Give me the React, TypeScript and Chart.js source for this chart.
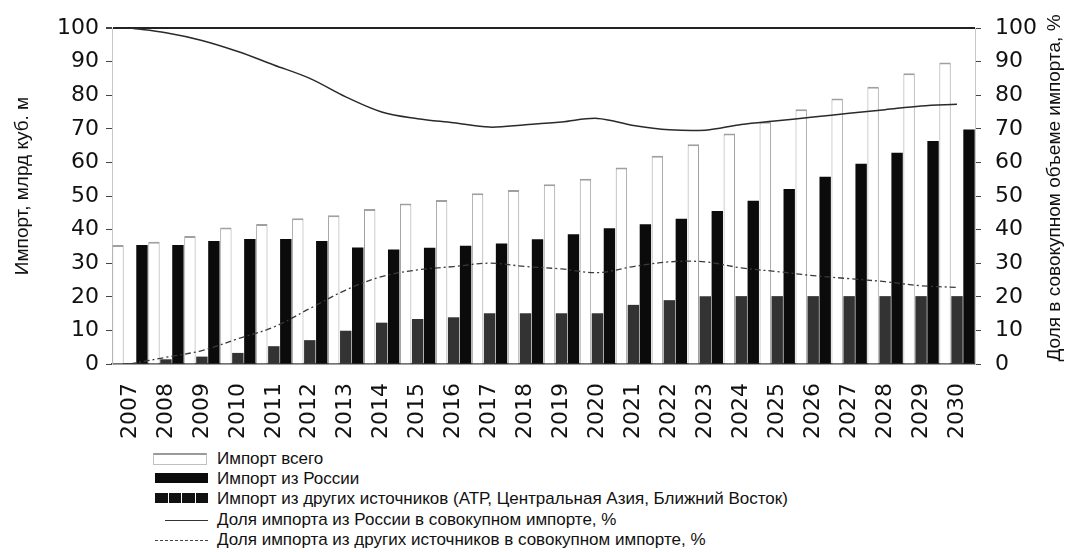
import React, { useEffect, useRef } from "react";
import { Chart, registerables } from "chart.js";

Chart.register(...registerables);

const years = ["2007","2008","2009","2010","2011","2012","2013","2014","2015","2016","2017","2018","2019","2020","2021","2022","2023","2024","2025","2026","2027","2028","2029","2030"];
const totalImport = [35.4, 36.4, 38.1, 40.6, 41.7, 43.4, 44.3, 46.1, 47.8, 48.8, 50.8, 51.8, 53.5, 55.1, 58.5, 62.0, 65.4, 68.6, 72.1, 75.8, 79.0, 82.5, 86.5, 89.7];
const russiaImport = [35.4, 35.4, 36.6, 37.2, 37.2, 36.6, 34.7, 34.1, 34.6, 35.2, 35.9, 37.1, 38.6, 40.4, 41.6, 43.2, 45.5, 48.6, 52.1, 55.7, 59.6, 62.9, 66.4, 69.8];
const otherImport = [0, 1.4, 2.2, 3.3, 5.3, 7.1, 9.9, 12.3, 13.4, 13.9, 15.1, 15.1, 15.1, 15.1, 17.6, 19.0, 20.2, 20.2, 20.2, 20.2, 20.2, 20.2, 20.2, 20.2];
const russiaShare = [100, 98.6, 96.3, 93, 89, 85, 79.5, 75, 73, 71.8, 70.5, 71.2, 72, 73.1, 71, 69.7, 69.6, 71.3, 72.4, 73.5, 74.6, 75.7, 76.8, 77.3];
const otherShare = [0, 2, 4, 7.5, 11, 16.5, 22, 26, 28, 29, 30, 29, 28.3, 27.2, 29, 30.4, 30.4, 28.6, 27.5, 26.3, 25.4, 24.5, 23.3, 22.8];

const leftTitle = "Импорт, млрд куб. м";
const rightTitle = "Доля в совокупном объеме импорта, %";
const legendLabels = [
  "Импорт всего",
  "Импорт из России",
  "Импорт из других источников (АТР, Центральная Азия, Ближний Восток)",
  "Доля импорта из России в совокупном импорте, %",
  "Доля импорта из других источников в совокупном импорте, %",
];

const W = 1070;
const CH = 445;
const PLOT_LEFT = 112;
const PLOT_RIGHT = 975;
const PLOT_TOP = 28;
const PLOT_BOTTOM = 364;
const TEXT_FONT = "'Liberation Sans', Arial, sans-serif";

const axisTitles = {
  id: "axisTitles",
  afterDraw(chart: any) {
    const ctx = chart.ctx;
    ctx.save();
    ctx.fillStyle = "#111";
    ctx.font = `19px ${TEXT_FONT}`;
    ctx.textAlign = "center";
    ctx.textBaseline = "middle";
    ctx.translate(23, 186);
    ctx.rotate(-Math.PI / 2);
    ctx.fillText(leftTitle, 0, 0);
    ctx.restore();
    ctx.save();
    ctx.fillStyle = "#111";
    ctx.font = `19px ${TEXT_FONT}`;
    ctx.textAlign = "center";
    ctx.textBaseline = "middle";
    ctx.translate(1055, 188);
    ctx.rotate(-Math.PI / 2);
    ctx.fillText(rightTitle, 0, 0);
    ctx.restore();
  },
};

export default function App() {
  const ref = useRef<HTMLCanvasElement>(null);

  useEffect(() => {
    document.body.style.margin = "0";
    const canvas = ref.current!;
    const tickFont = { family: "'DejaVu Sans', sans-serif", size: 22 };
    const chart = new Chart(canvas, {
      data: {
        labels: years,
        datasets: [
          {
            type: "line",
            label: legendLabels[3],
            data: russiaShare,
            yAxisID: "y1",
            borderColor: "#2a2a2a",
            borderWidth: 1.5,
            pointRadius: 0,
            tension: 0.35,
            fill: false,
          },
          {
            type: "line",
            label: legendLabels[4],
            data: otherShare,
            yAxisID: "y1",
            borderColor: "#3a3a3a",
            borderWidth: 1.3,
            borderDash: [6, 3, 2, 3],
            pointRadius: 0,
            tension: 0.35,
            fill: false,
          },
          {
            type: "bar",
            label: legendLabels[0],
            data: totalImport,
            yAxisID: "y",
            backgroundColor: "#ffffff",
            borderColor: "#a0a0a0",
            borderWidth: { top: 2, left: 1, right: 1, bottom: 0 },
            borderSkipped: "bottom",
            categoryPercentage: 1,
            barPercentage: 0.95,
          },
          {
            type: "bar",
            label: legendLabels[2],
            data: otherImport,
            yAxisID: "y",
            backgroundColor: "#333333",
            categoryPercentage: 1,
            barPercentage: 0.95,
          },
          {
            type: "bar",
            label: legendLabels[1],
            data: russiaImport,
            yAxisID: "y",
            backgroundColor: "#0b0b0b",
            categoryPercentage: 1,
            barPercentage: 0.95,
          },
        ],
      },
      options: {
        responsive: false,
        animation: false,
        devicePixelRatio: 1,
        layout: { padding: { top: PLOT_TOP, left: 0, right: 0, bottom: 0 } },
        plugins: { legend: { display: false }, tooltip: { enabled: false } },
        scales: {
          x: {
            type: "category",
            offset: true,
            grid: { display: false, drawOnChartArea: false },
            border: { display: true, color: "#444", width: 1.5 },
            ticks: {
              font: tickFont,
              color: "#111",
              minRotation: 90,
              maxRotation: 90,
              autoSkip: false,
              padding: 11,
            },
            afterFit: (s: any) => { s.height = CH - PLOT_BOTTOM; },
          },
          y: {
            position: "left",
            min: 0,
            max: 100,
            ticks: { stepSize: 10, font: tickFont, color: "#111", padding: 7 },
            grid: {
              drawOnChartArea: true,
              color: (ctx: any) => (ctx.tick && ctx.tick.value === 100 ? "#222" : "rgba(0,0,0,0)"),
              lineWidth: (ctx: any) => (ctx.tick && ctx.tick.value === 100 ? 2 : 1),
              tickColor: "#444",
              tickLength: 6,
            },
            border: { display: true, color: "#c8c8c8" },
            afterFit: (s: any) => { s.width = PLOT_LEFT; },
          },
          y1: {
            position: "right",
            min: 0,
            max: 100,
            ticks: { stepSize: 10, font: tickFont, color: "#111", padding: 14 },
            grid: { drawOnChartArea: false, tickColor: "#444", tickLength: 6 },
            border: { display: true, color: "#c8c8c8" },
            afterFit: (s: any) => { s.width = W - PLOT_RIGHT; },
          },
        },
      },
      plugins: [axisTitles],
    } as any);
    return () => chart.destroy();
  }, []);

  const rowCenter0 = 459;
  const rowH = 20.2;
  const textStyle: React.CSSProperties = {
    position: "absolute",
    left: 217,
    fontFamily: TEXT_FONT,
    fontSize: 17,
    color: "#111",
    whiteSpace: "nowrap",
    lineHeight: "20px",
  };

  const swatch = (i: number) => {
    const cy = rowCenter0 + i * rowH;
    if (i === 0) {
      return <div key={"s" + i} style={{ position: "absolute", left: 153, top: cy - 6, width: 52, height: 9, border: "1px solid #c0c0c0", borderTop: "2px solid #9a9a9a", background: "#fff" }} />;
    }
    if (i === 1) {
      return <div key={"s" + i} style={{ position: "absolute", left: 155, top: cy - 6, width: 53, height: 10, background: "#0b0b0b" }} />;
    }
    if (i === 2) {
      return (
        <div key={"s" + i} style={{ position: "absolute", left: 155, top: cy - 6, width: 53, height: 10, display: "flex", gap: 1 }}>
          {[0, 1, 2, 3].map((k) => (
            <div key={k} style={{ flex: 1, background: "#111" }} />
          ))}
        </div>
      );
    }
    if (i === 3) {
      return <div key={"s" + i} style={{ position: "absolute", left: 165, top: cy, width: 43, height: 0, borderTop: "1px solid #333" }} />;
    }
    return <div key={"s" + i} style={{ position: "absolute", left: 155, top: cy, width: 53, height: 0, borderTop: "1px dashed #444" }} />;
  };

  return (
    <div style={{ position: "absolute", left: 0, top: 0, width: W, height: 552, background: "#fff", overflow: "hidden" }}>
      <canvas ref={ref} width={W} height={CH} style={{ position: "absolute", left: 0, top: 0, width: W, height: CH }} />
      {legendLabels.map((t, i) => (
        <React.Fragment key={i}>
          {swatch(i)}
          <div style={{ ...textStyle, top: rowCenter0 + i * rowH - 10 }}>{t}</div>
        </React.Fragment>
      ))}
    </div>
  );
}
